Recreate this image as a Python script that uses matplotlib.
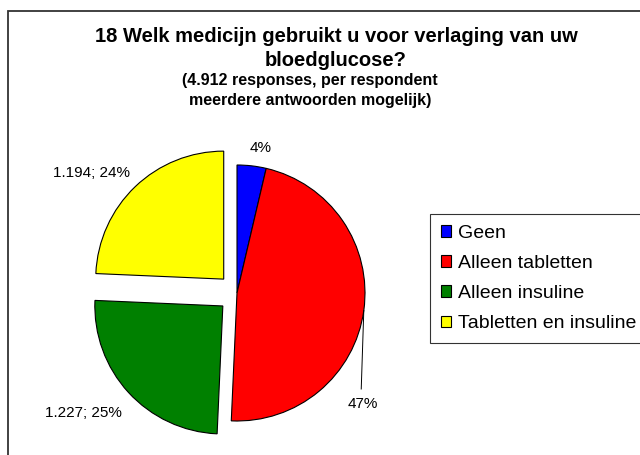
import numpy as np
import matplotlib.pyplot as plt
from matplotlib.patches import Rectangle

plt.rcParams['font.family'] = ['Liberation Sans', 'DejaVu Sans']

# Data
categories = ['Geen', 'Alleen tabletten', 'Alleen insuline', 'Tabletten en insuline']
counts = [180, 2311, 1227, 1194]
colors = ['#0000FF', '#FF0000', '#008000', '#FFFF00']
explode = [0, 0, 0.15, 0.15]
label_texts = ['4%', '47%', '1.227; 25%', '1.194; 24%']

W, H = 640, 455
fig = plt.figure(figsize=(W / 100, H / 100), dpi=100)

# outer chart border (right / bottom run off the image)
fig.patches.append(Rectangle((8 / W, -0.1), 1.2, 1 - 11 / H + 0.1, transform=fig.transFigure,
                             fill=False, ec='#333333', lw=1.3))

# axes placed so that pie centre ~ (237, 293) px and radius ~ 128 px
r_px = 128
span = 1.6
cx, cy = 237, H - 293
ax = fig.add_axes([(cx - span * r_px) / W, (cy - span * r_px) / H,
                   2 * span * r_px / W, 2 * span * r_px / H])

wedges, _ = ax.pie(counts, colors=colors, explode=explode, startangle=90, counterclock=False,
                   radius=1.0, wedgeprops=dict(edgecolor='black', linewidth=0.8))
ax.set_xlim(-span, span)
ax.set_ylim(-span, span)
ax.set_aspect('equal')
ax.axis('off')

# labels
for i, w in enumerate(wedges):
    mid = np.deg2rad((w.theta1 + w.theta2) / 2)
    dx, dy = np.cos(mid), np.sin(mid)
    if i == 0:
        ax.text(1.14 * dx + 0.05, 1.14 * dy, label_texts[i], ha='center', va='center', fontsize=11)
    elif i == 1:
        ax.plot([dx, dx - 0.02], [dy, -0.75], color='black', lw=0.7)
        ax.text(dx - 0.01, -0.81, label_texts[i], ha='center', va='top', fontsize=11)
    elif i == 2:
        ax.text(1.3 * dx + 0.06, 1.3 * dy - 0.06, label_texts[i], ha='right', va='center', fontsize=11)
    else:
        ax.text(1.3 * dx + 0.06, 1.3 * dy, label_texts[i], ha='right', va='center', fontsize=11)

# titles
fig.text(336 / W, 1 - 37 / H, '18 Welk medicijn gebruikt u voor verlaging van uw',
         ha='center', va='center', fontsize=14.5, fontweight='bold')
fig.text(336 / W, 1 - 61 / H, 'bloedglucose?', ha='center', va='center',
         fontsize=14.5, fontweight='bold')
fig.text(310 / W, 1 - 80 / H, '(4.912 responses, per respondent', ha='center', va='center',
         fontsize=11.5, fontweight='bold')
fig.text(310 / W, 1 - 100 / H, 'meerdere antwoorden mogelijk)', ha='center', va='center',
         fontsize=11.5, fontweight='bold')

# legend
leg = fig.legend(wedges, categories, loc='upper left', bbox_to_anchor=(430 / W, 1 - 214 / H),
                 fontsize=14, frameon=True, fancybox=False, handlelength=0.55, handleheight=0.55,
                 handletextpad=0.35, labelspacing=0.68, borderaxespad=0, borderpad=0.55)
leg.get_frame().set_edgecolor('black')
leg.get_frame().set_linewidth(0.8)

fig.savefig('out.png', dpi=100)
